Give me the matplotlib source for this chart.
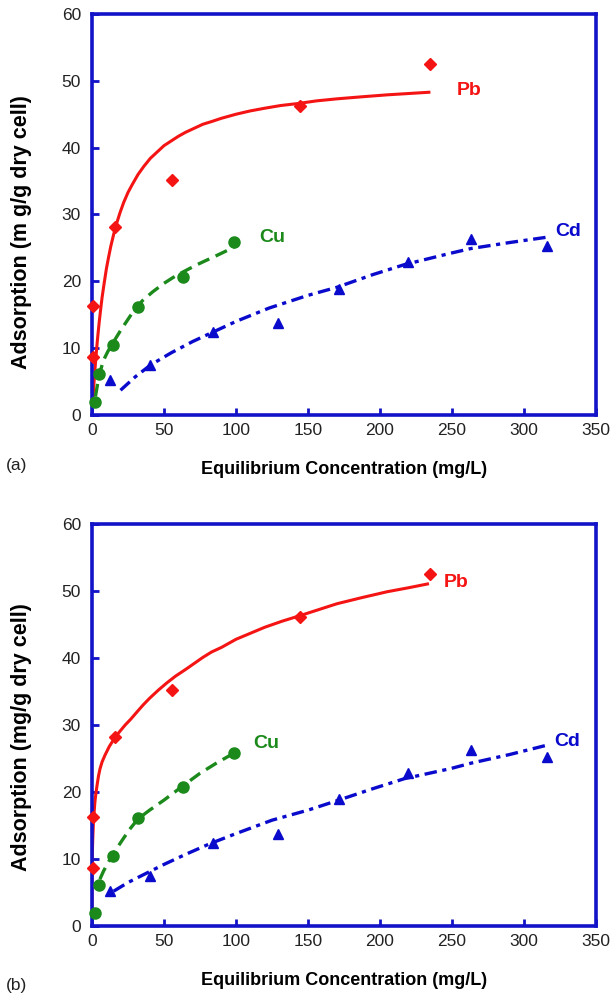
import matplotlib
matplotlib.use("Agg")
import matplotlib.pyplot as plt

plt.rcParams['font.family'] = ['Liberation Sans', 'DejaVu Sans']
plt.rcParams['lines.scale_dashes'] = False

# ---- measured data (same in both panels) ----
pb_x = [0.7, 0.5, 16.3, 55.5, 144.5, 235.0]
pb_y = [16.3, 8.7, 28.2, 35.2, 46.2, 52.5]
cu_x = [1.9, 5.1, 14.5, 32.2, 63.4, 98.6]
cu_y = [2.0, 6.2, 10.5, 16.2, 20.7, 25.9]
cd_x = [12.8, 40.1, 83.9, 129.0, 171.3, 219.6, 263.4, 315.9]
cd_y = [5.2, 7.5, 12.4, 13.8, 18.9, 22.9, 26.3, 25.3]

# ---- fitted curves (Langmuir) ----
pbL_x = [0.5, 0.75, 1, 1.5, 2, 2.7, 3.5, 4.2, 5, 6, 7, 8.5, 10, 11.5, 13, 15, 17, 19.5, 22, 25, 28, 32, 36,
         40.5, 45, 50, 55, 60, 65, 71, 77, 83, 90, 100, 110, 120, 131, 143, 156, 170, 187, 205, 220, 235]
pbL_y = [1.8, 2.7, 3.6, 5.2, 6.7, 8.6, 10.6, 12.2, 13.9, 15.8, 17.6, 19.8, 21.9, 23.6, 25.2, 27.0, 28.6, 30.3,
         31.8, 33.3, 34.5, 36.0, 37.2, 38.4, 39.3, 40.3, 41.0, 41.7, 42.3, 42.9, 43.5, 43.9, 44.4, 45.0, 45.5,
         45.9, 46.3, 46.6, 47.0, 47.3, 47.6, 47.9, 48.1, 48.3]
cuL_x = [2.4, 5, 8, 11, 14, 20, 29, 35, 42, 50, 58, 65, 73, 87, 98.6]
cuL_y = [2.8, 6.0, 8.2, 9.5, 10.6, 12.7, 15.6, 17.1, 18.4, 19.7, 20.8, 21.6, 22.5, 23.9, 25.1]
cdL_x = [19.8, 30, 40.8, 55, 70, 83, 100, 123, 150, 170, 195, 217, 249, 263, 290, 316]
cdL_y = [3.7, 5.7, 7.5, 9.3, 11.0, 12.3, 14.0, 16.0, 17.9, 19.1, 21.0, 22.5, 24.2, 24.9, 25.8, 26.6]

# ---- fitted curves (Freundlich) ----
pbF_x = [0.0, 0.01, 0.05, 0.1, 0.2, 0.35, 0.5, 0.75, 1, 1.5, 2, 2.7, 3.5, 4.5, 5.6, 7, 9, 12, 16.1, 19.5, 23,
         27, 31, 35.5, 40, 46, 52, 58, 65, 71, 77, 83, 90, 100, 110, 120, 132, 144, 157, 170, 187, 205, 220, 234]
pbF_y = [1.5, 5.3, 7.6, 9.0, 10.5, 11.8, 12.9, 14.3, 15.5, 17.1, 18.5, 19.8, 21.0, 22.4, 23.5, 24.5, 25.5,
         26.8, 28.2, 29.1, 30.0, 30.9, 31.9, 33.0, 34.0, 35.2, 36.3, 37.3, 38.3, 39.2, 40.1, 40.9, 41.6, 42.8,
         43.7, 44.6, 45.5, 46.3, 47.2, 48.1, 49.0, 49.9, 50.5, 51.1]
cuF_x = [5.5, 8, 11, 14.5, 20, 26, 32, 40, 50, 63, 75, 87, 98.6]
cuF_y = [7.0, 8.2, 9.4, 10.7, 12.5, 14.4, 16.0, 17.3, 18.8, 20.9, 22.8, 24.4, 25.8]
cdF_x = [15, 25, 37, 50, 65, 82, 100, 125, 150, 170, 195, 217, 249, 263, 290, 316]
cdF_y = [5.2, 6.5, 7.8, 9.2, 10.7, 12.3, 13.8, 15.8, 17.3, 18.7, 20.5, 22.0, 23.5, 24.3, 25.6, 27.0]

xticks = [0, 50, 100, 150, 200, 250, 300, 350]
yticks = [0, 10, 20, 30, 40, 50, 60]

RED = '#f51414'
GREEN = '#1b8a1b'
BLUE = '#0a0acc'
SPINE = '#1212c8'

fig = plt.figure(figsize=(6.13, 9.98), dpi=100)

panels = [
    dict(rect=[0.1501, 0.5842, 0.8222, 0.4018], ylabel='Adsorption (m g/g dry cell)', tag='(a)',
         curves=((pbL_x, pbL_y), (cuL_x, cuL_y), (cdL_x, cdL_y)),
         labels=((262, 48.5), (125, 26.5), (330.5, 27.4)), tagy=0.5335, ylab_y=0.456),
    dict(rect=[0.1501, 0.0721, 0.8222, 0.4028], ylabel='Adsorption (mg/g dry cell)', tag='(b)',
         curves=((pbF_x, pbF_y), (cuF_x, cuF_y), (cdF_x, cdF_y)),
         labels=((253, 51.3), (121, 27.2), (330, 27.5)), tagy=0.0130, ylab_y=0.470),
]

for p in panels:
    ax = fig.add_axes(p['rect'])
    (px, py), (cx, cy), (dx, dy) = p['curves']
    ax.plot(px, py, color=RED, lw=2.2, solid_capstyle='butt', solid_joinstyle='round', zorder=2)
    ax.plot(cx, cy, color=GREEN, lw=2.4, dashes=(9, 5), zorder=2)
    ax.plot(dx, dy, color=BLUE, lw=2.4, dashes=(9, 4, 3, 4), zorder=2)
    ax.plot(pb_x, pb_y, 'D', color=RED, ms=6, mec=RED, ls='none', clip_on=False, zorder=3)
    ax.plot(cu_x, cu_y, 'o', color=GREEN, ms=8, mec=GREEN, ls='none', clip_on=False, zorder=3)
    ax.plot(cd_x, cd_y, '^', color=BLUE, ms=7, mec=BLUE, ls='none', clip_on=False, zorder=3)

    (lx1, ly1), (lx2, ly2), (lx3, ly3) = p['labels']
    ax.text(lx1, ly1, 'Pb', color=RED, fontsize=14, fontweight='bold', ha='center', va='center')
    ax.text(lx2, ly2, 'Cu', color=GREEN, fontsize=14, fontweight='bold', ha='center', va='center')
    ax.text(lx3, ly3, 'Cd', color=BLUE, fontsize=14, fontweight='bold', ha='center', va='center')

    ax.set_xlim(0, 350)
    ax.set_ylim(0, 60)
    ax.set_xticks(xticks)
    ax.set_yticks(yticks)
    for s in ax.spines.values():
        s.set_color(SPINE)
        s.set_linewidth(2.6)
    ax.tick_params(axis='both', direction='in', length=5, width=2, color=SPINE,
                   labelsize=12.5, labelcolor='#222222', top=False, right=False)
    ax.tick_params(axis='x', pad=6)
    ax.tick_params(axis='y', pad=8)
    ax.set_xlabel('Equilibrium Concentration (mg/L)', fontsize=13, fontweight='bold', labelpad=16)
    ax.set_ylabel(p['ylabel'], fontsize=15.5, fontweight='bold')
    ax.yaxis.set_label_coords(-0.120, p['ylab_y'])
    fig.text(0.027, p['tagy'], p['tag'], fontsize=12.5, ha='center', va='center', color='#222222')

fig.savefig('out.png', dpi=100)
